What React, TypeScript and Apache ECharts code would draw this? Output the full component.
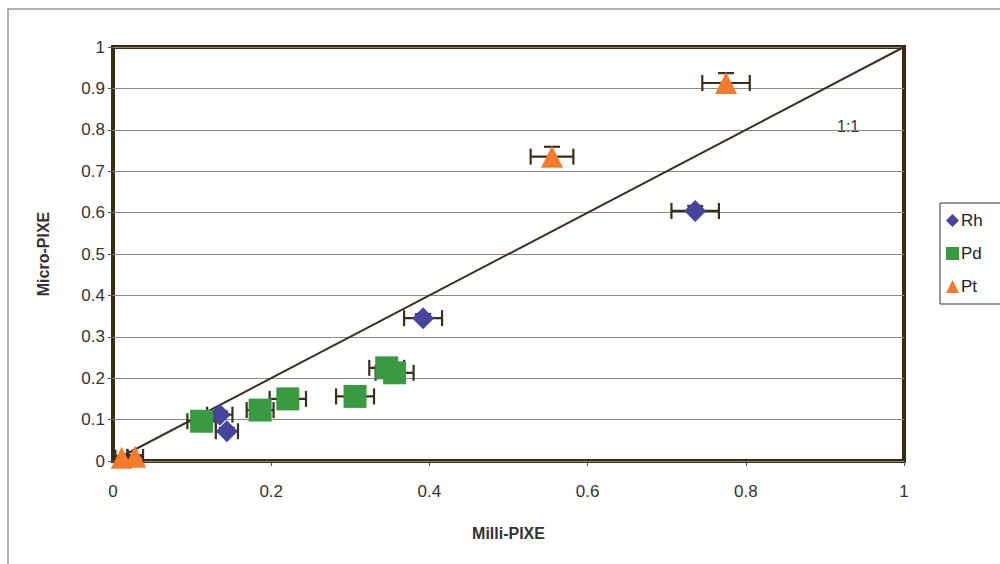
import React, { useEffect, useRef } from "react";
import * as echarts from "echarts";

// [milli, micro, xErr, yErr]
const rhData = [
  [0.736, 0.604, 0.03, 0.012],
  [0.392, 0.345, 0.024, 0.01],
  [0.135, 0.112, 0.016, 0.008],
  [0.144, 0.072, 0.014, 0.008],
];
const pdData = [
  [0.112, 0.096, 0.018, 0.008],
  [0.186, 0.123, 0.017, 0.008],
  [0.221, 0.15, 0.023, 0.008],
  [0.306, 0.156, 0.024, 0.008],
  [0.346, 0.225, 0.022, 0.008],
  [0.356, 0.213, 0.024, 0.008],
];
const ptData = [
  [0.775, 0.913, 0.03, 0.024],
  [0.555, 0.735, 0.027, 0.024],
  [0.011, 0.008, 0.008, 0.004],
  [0.028, 0.01, 0.01, 0.004],
];
const oneToOne = [
  [0, 0],
  [1, 1],
];
const seriesNames = ["Rh", "Pd", "Pt"];
const xTicks = [0, 0.2, 0.4, 0.6, 0.8, 1];

const colors = { Rh: "#46449c", Pd: "#3a9a42", Pt: "#f47a2c" };
const barColor = "#3a2e1c";

function errorBarSeries(data: number[][]) {
  return {
    type: "custom",
    silent: true,
    z: 3,
    renderItem: (params: any, api: any) => {
      const x = api.value(0);
      const y = api.value(1);
      const xe = api.value(2);
      const ye = api.value(3);
      const l = api.coord([x - xe, y]);
      const r = api.coord([x + xe, y]);
      const t = api.coord([x, y + ye]);
      const c = api.coord([x, y]);
      const cap = 8;
      const style = { stroke: barColor, lineWidth: 2.2 };
      return {
        type: "group",
        children: [
          { type: "line", shape: { x1: l[0], y1: l[1], x2: r[0], y2: r[1] }, style },
          { type: "line", shape: { x1: l[0], y1: l[1] - cap, x2: l[0], y2: l[1] + cap }, style },
          { type: "line", shape: { x1: r[0], y1: r[1] - cap, x2: r[0], y2: r[1] + cap }, style },
          { type: "line", shape: { x1: c[0], y1: c[1], x2: t[0], y2: t[1] }, style },
          { type: "line", shape: { x1: t[0] - cap, y1: t[1], x2: t[0] + cap, y2: t[1] }, style },
        ],
      };
    },
    data,
  };
}

export default function App() {
  const ref = useRef<HTMLDivElement>(null);
  useEffect(() => {
    const chart = echarts.init(ref.current!, null, { renderer: "svg" });
    const font = "Liberation Sans, Arial, sans-serif";
    chart.setOption({
      animation: false,
      backgroundColor: "#fff",
      textStyle: { fontFamily: font },
      grid: {
        left: 113,
        right: 96,
        top: 47,
        bottom: 103,
        show: true,
        borderColor: "#3b2a12",
        borderWidth: 4,
        backgroundColor: "transparent",
      },
      xAxis: {
        type: "value",
        min: 0,
        max: 1,
        interval: 0.2,
        name: "Milli-PIXE",
        nameLocation: "middle",
        nameGap: 64,
        nameTextStyle: { fontWeight: "bold", fontSize: 16, color: "#333", fontFamily: font },
        axisLine: { show: false },
        axisTick: { show: true, length: 5, lineStyle: { color: "#555" } },
        axisLabel: {
          fontSize: 17,
          color: "#333",
          margin: 22,
          formatter: (v: number) => (xTicks.includes(+v.toFixed(1)) ? String(+v.toFixed(1)) : ""),
        },
        splitLine: { show: false },
      },
      yAxis: {
        type: "value",
        min: 0,
        max: 1,
        interval: 0.1,
        name: "Micro-PIXE",
        nameLocation: "middle",
        nameGap: 62,
        nameTextStyle: { fontWeight: "bold", fontSize: 16, color: "#333", fontFamily: font },
        axisLine: { show: false },
        axisTick: { show: true, length: 5, lineStyle: { color: "#555" } },
        axisLabel: {
          fontSize: 17,
          color: "#333",
          margin: 8,
          formatter: (v: number) => String(+v.toFixed(1)),
        },
        splitLine: { show: true, lineStyle: { color: "#8a8a8a", width: 1 } },
      },
      legend: {
        data: [
          { name: "Rh", icon: "diamond" },
          { name: "Pd", icon: "rect" },
          { name: "Pt", icon: "triangle" },
        ],
        orient: "vertical",
        left: 940,
        top: 203,
        itemWidth: 13,
        itemHeight: 13,
        itemGap: 16,
        padding: [9, 20, 9, 6],
        borderColor: "#333",
        borderWidth: 1,
        textStyle: { fontSize: 17, color: "#222", fontFamily: font, padding: [0, 0, 0, -3] },
      },
      graphic: [
        {
          type: "rect",
          shape: { x: 8, y: 9, width: 1100, height: 600 },
          style: { fill: "none", stroke: "#999", lineWidth: 1.5 },
          silent: true,
        },
        {
          type: "text",
          x: 837,
          y: 118,
          style: { text: "1:1", fontSize: 16, fill: "#333", fontFamily: font },
          silent: true,
        },
      ],
      series: [
        {
          type: "line",
          data: oneToOne,
          symbol: "none",
          lineStyle: { color: "#3a3020", width: 2 },
          z: 1,
          silent: true,
        },
        errorBarSeries(rhData),
        errorBarSeries(pdData),
        errorBarSeries(ptData),
        {
          name: seriesNames[0],
          type: "scatter",
          symbol: "diamond",
          symbolSize: 22,
          itemStyle: { color: colors.Rh, opacity: 1 },
          data: rhData.map((d) => [d[0], d[1]]),
          z: 4,
        },
        {
          name: seriesNames[1],
          type: "scatter",
          symbol: "rect",
          symbolSize: 23,
          itemStyle: { color: colors.Pd, opacity: 1 },
          data: pdData.map((d) => [d[0], d[1]]),
          z: 4,
        },
        {
          name: seriesNames[2],
          type: "scatter",
          symbol: "triangle",
          symbolSize: 22,
          itemStyle: { color: colors.Pt, opacity: 1 },
          data: ptData.map((d) => [d[0], d[1]]),
          z: 4,
        },
      ],
    });
    return () => chart.dispose();
  }, []);
  return <div ref={ref} style={{ width: 1000, height: 564, position: "fixed", left: 0, top: 0 }} />;
}
